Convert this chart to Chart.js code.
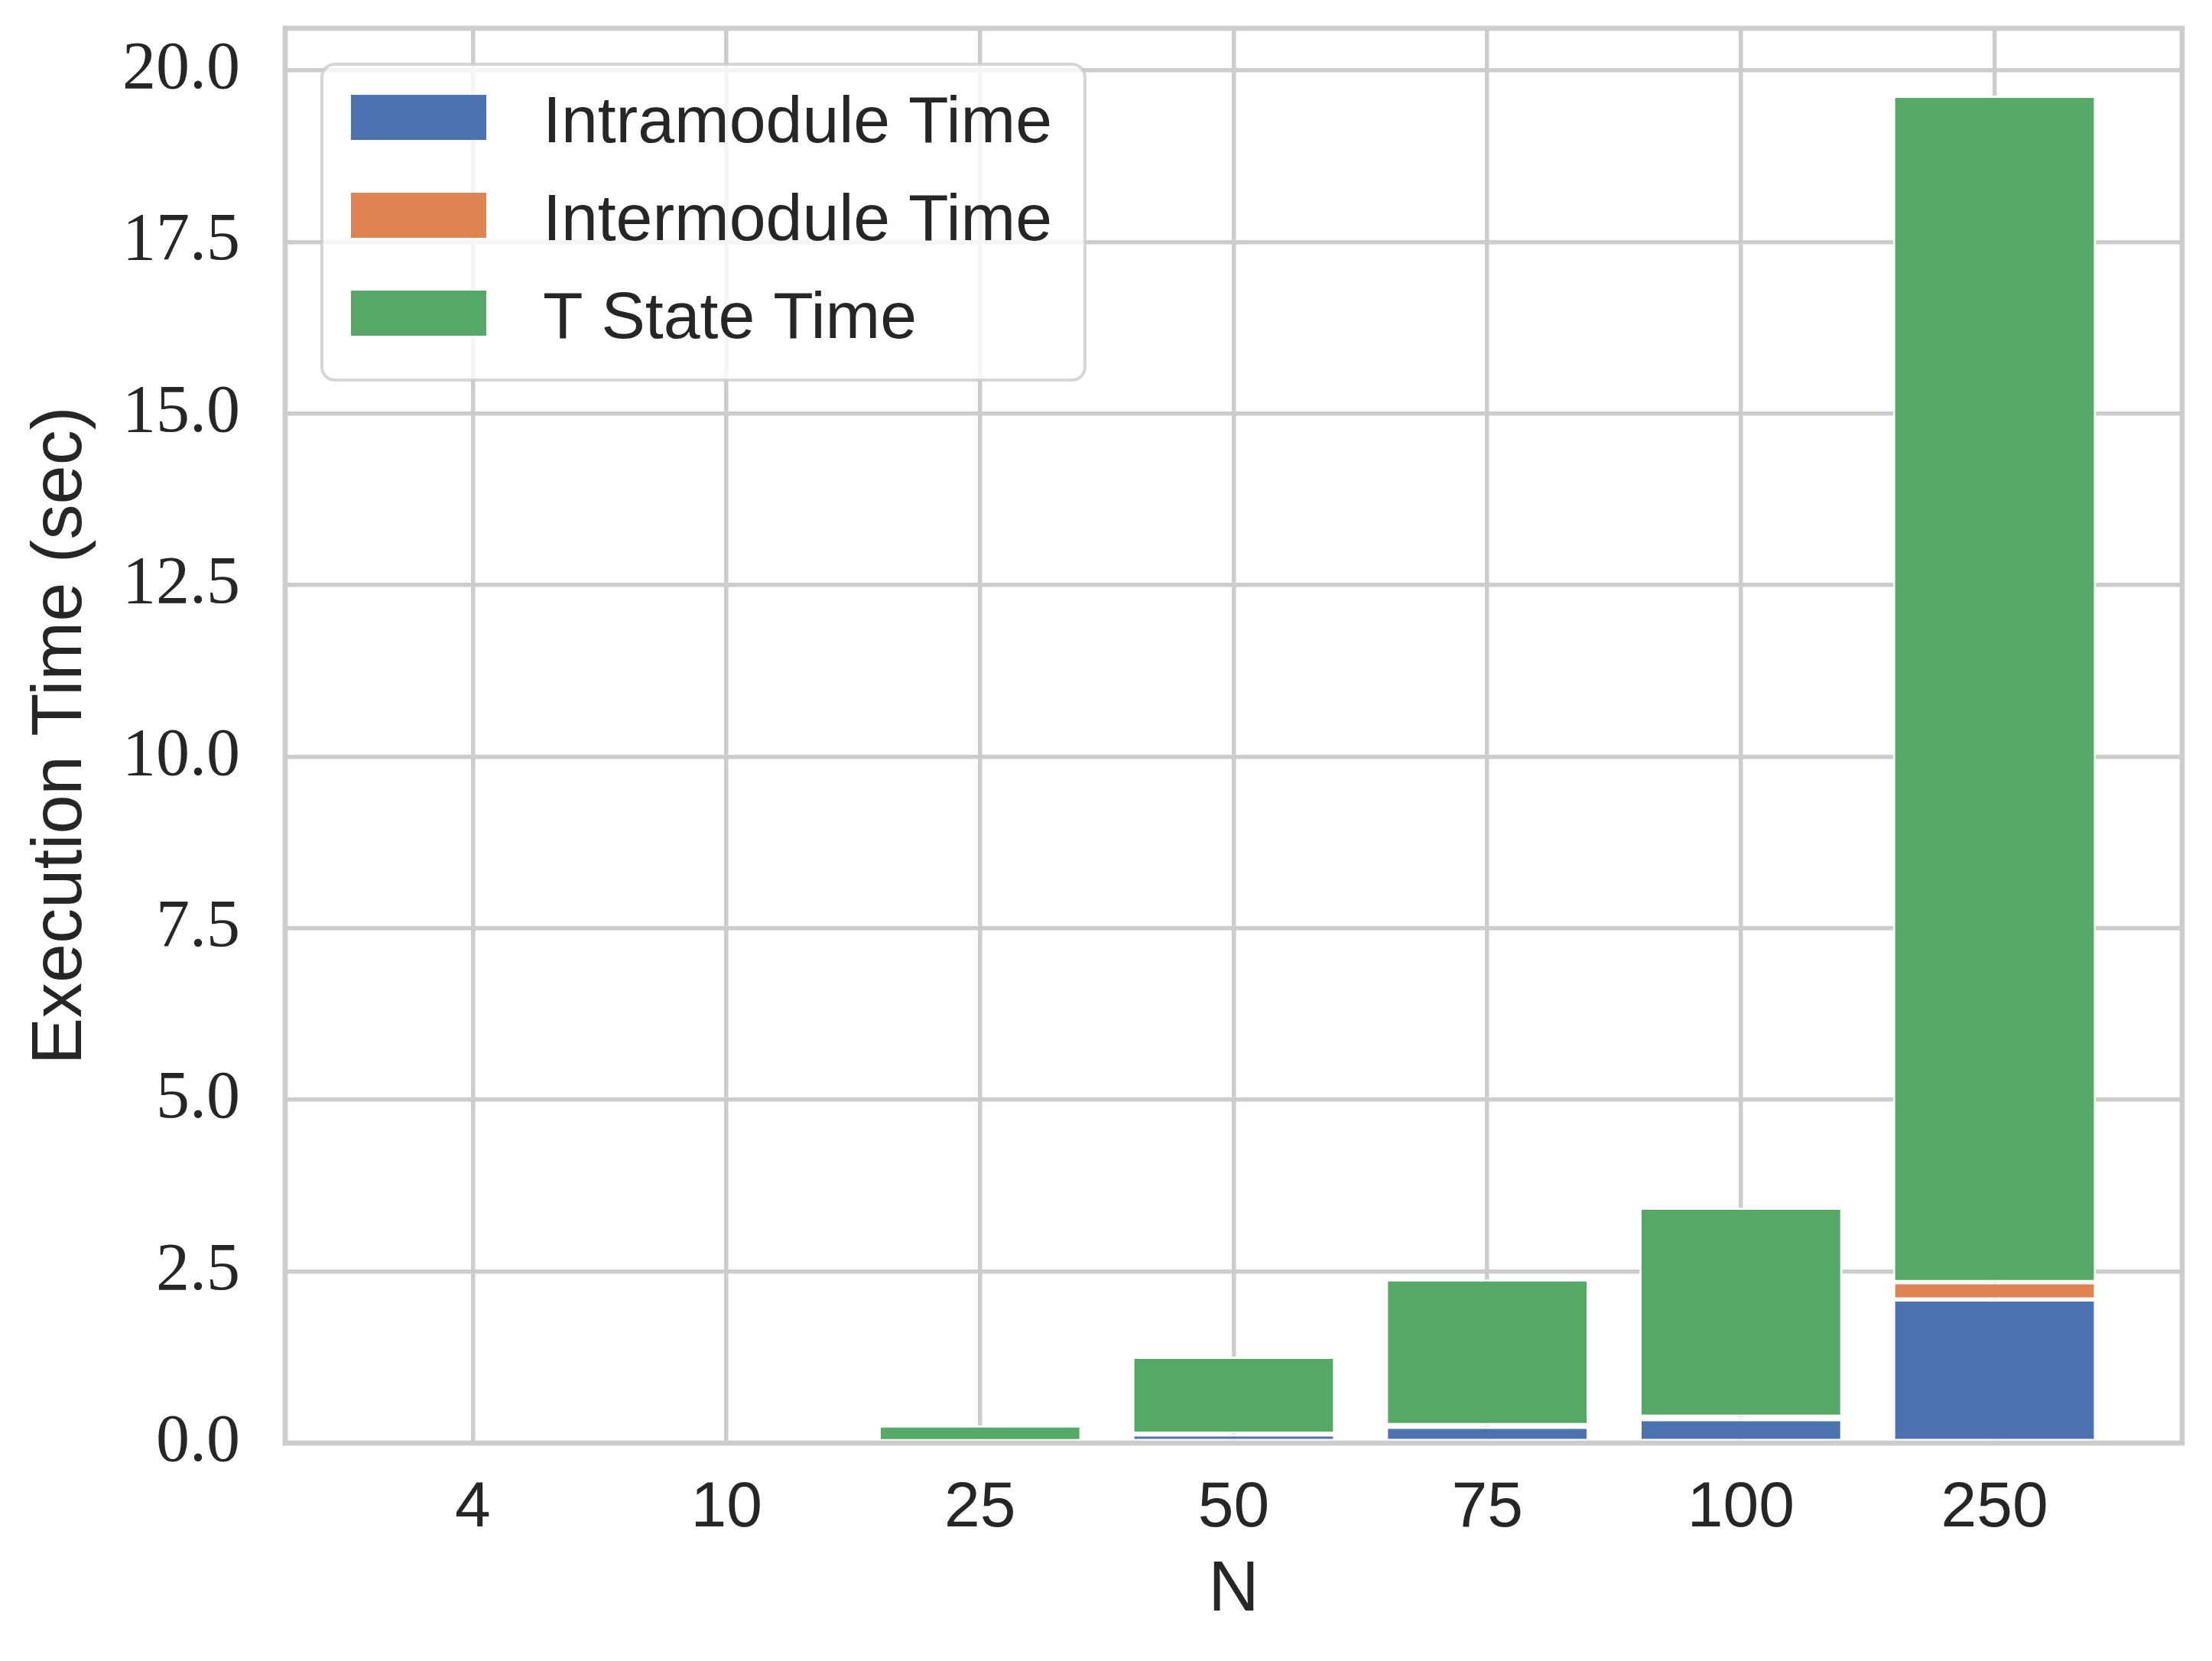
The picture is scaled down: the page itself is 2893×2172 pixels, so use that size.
<!DOCTYPE html>
<html>
<head>
<meta charset="utf-8">
<title>Execution Time by N</title>
<script src="https://cdn.jsdelivr.net/npm/chart.js@4.4.1/dist/chart.umd.min.js"></script>
<style>
  html, body { margin: 0; padding: 0; background: #ffffff; }
  #wrap { width: 2893px; height: 2172px; }
</style>
</head>
<body>
<div id="wrap"><canvas id="timeChart"></canvas></div>
<script>
const categories = ["4", "10", "25", "50", "75", "100", "250"];
const intramoduleTime = [0.001, 0.004, 0.02, 0.125, 0.236, 0.348, 2.091];
const intermoduleTime = [0.0005, 0.002, 0.008, 0.011, 0.026, 0.037, 0.253];
const tStateTime = [0.004, 0.02, 0.23, 1.122, 2.123, 3.045, 17.286];
const yTicks = [0, 2.5, 5, 7.5, 10, 12.5, 15, 17.5, 20];

const textColor = "#262626";
const gridColor = "#cccccc";
const sansFont = "'Liberation Sans', Arial, sans-serif";
const serifFont = "'Liberation Serif', 'Times New Roman', serif";

const totals = categories.map((_, i) => intramoduleTime[i] + intermoduleTime[i] + tStateTime[i]);
const yMax = Math.max(...totals) * 1.05;
const xMargin = 0.74;

function makeDataset(label, values, color) {
    return {
        label,
        data: values.map((v, i) => ({ x: i, y: v })),
        backgroundColor: color,
        borderColor: "#ffffff",
        borderWidth: 2.8,
        borderSkipped: false,
        inflateAmount: 0,
        categoryPercentage: 0.8,
        barPercentage: 1.0
    };
}

function clearScalePadding(scale) {
    scale.paddingTop = 0;
    scale.paddingBottom = 0;
    scale.paddingLeft = 0;
    scale.paddingRight = 0;
}

const framePlugin = {
    id: "frame",
    afterDatasetsDraw(chart) {
        const { ctx, chartArea } = chart;
        ctx.save();
        ctx.strokeStyle = gridColor;
        ctx.lineWidth = 6.7;
        ctx.strokeRect(chartArea.left, chartArea.top, chartArea.right - chartArea.left, chartArea.bottom - chartArea.top);
        ctx.restore();
    }
};

const legendPlugin = {
    id: "boxLegend",
    afterDraw(chart) {
        const { ctx, chartArea } = chart;
        const handleW = 177, handleH = 59, rowGap = 128;
        const padLeft = 38, padTop = 40, padBottom = 58, textGap = 74, padRight = 43;
        const datasets = chart.data.datasets;

        ctx.save();
        ctx.font = `86px ${sansFont}`;
        const textW = Math.max(...datasets.map(d => ctx.measureText(d.label).width));
        const x = chartArea.left + 48;
        const y = chartArea.top + 47;
        const w = padLeft + handleW + textGap + textW + padRight;
        const h = padTop + handleH + rowGap * (datasets.length - 1) + padBottom;

        ctx.beginPath();
        ctx.roundRect(x, y, w, h, 17);
        ctx.fillStyle = "rgba(255,255,255,0.8)";
        ctx.fill();
        ctx.lineWidth = 4;
        ctx.strokeStyle = "rgba(204,204,204,0.8)";
        ctx.stroke();

        datasets.forEach((d, i) => {
            const hy = y + padTop + i * rowGap;
            ctx.fillStyle = d.backgroundColor;
            ctx.fillRect(x + padLeft, hy, handleW, handleH);
            ctx.fillStyle = textColor;
            ctx.textBaseline = "alphabetic";
            ctx.textAlign = "left";
            ctx.fillText(d.label, x + padLeft + handleW + textGap, hy + handleH + 3);
        });
        ctx.restore();
    }
};

window.addEventListener("DOMContentLoaded", () => {
    const ctx = document.getElementById("timeChart").getContext("2d");
    new Chart(ctx, {
        type: "bar",
        data: {
            datasets: [
                makeDataset("Intramodule Time", intramoduleTime, "#4c72b0"),
                makeDataset("Intermodule Time", intermoduleTime, "#dd8452"),
                makeDataset("T State Time", tStateTime, "#55a868")
            ]
        },
        options: {
            responsive: true,
            maintainAspectRatio: false,
            animation: false,
            devicePixelRatio: 1,
            layout: { padding: { top: 37, right: 39, left: 0, bottom: 0 } },
            plugins: {
                legend: { display: false },
                tooltip: { enabled: false }
            },
            scales: {
                x: {
                    type: "linear",
                    stacked: true,
                    offset: false,
                    min: -xMargin,
                    max: categories.length - 1 + xMargin,
                    afterBuildTicks: scale => {
                        scale.ticks = categories.map((_, i) => ({ value: i }));
                    },
                    afterFit: scale => {
                        scale.height = 285;
                        clearScalePadding(scale);
                    },
                    grid: { color: gridColor, lineWidth: 5.5, drawTicks: false, offset: false },
                    border: { display: false },
                    ticks: {
                        padding: 35,
                        color: textColor,
                        autoSkip: false,
                        maxRotation: 0,
                        font: { family: sansFont, size: 84 },
                        callback: value => categories[value] ?? ""
                    },
                    title: {
                        display: true,
                        text: "N",
                        color: textColor,
                        font: { family: sansFont, size: 92 },
                        padding: { top: 0, bottom: 36 }
                    }
                },
                y: {
                    stacked: true,
                    min: 0,
                    max: yMax,
                    afterBuildTicks: scale => {
                        scale.ticks = yTicks.map(v => ({ value: v }));
                    },
                    afterFit: scale => {
                        scale.width = 373;
                        clearScalePadding(scale);
                    },
                    grid: { color: gridColor, lineWidth: 5.5, drawTicks: false },
                    border: { display: false },
                    ticks: {
                        padding: 59,
                        color: textColor,
                        font: { family: serifFont, size: 88 },
                        callback: value => Number(value).toFixed(1)
                    },
                    title: {
                        display: true,
                        text: "Execution Time (sec)",
                        color: textColor,
                        font: { family: sansFont, size: 92 },
                        padding: { top: 25, bottom: 0 }
                    }
                }
            }
        },
        plugins: [framePlugin, legendPlugin]
    });
});
</script>
</body>
</html>
